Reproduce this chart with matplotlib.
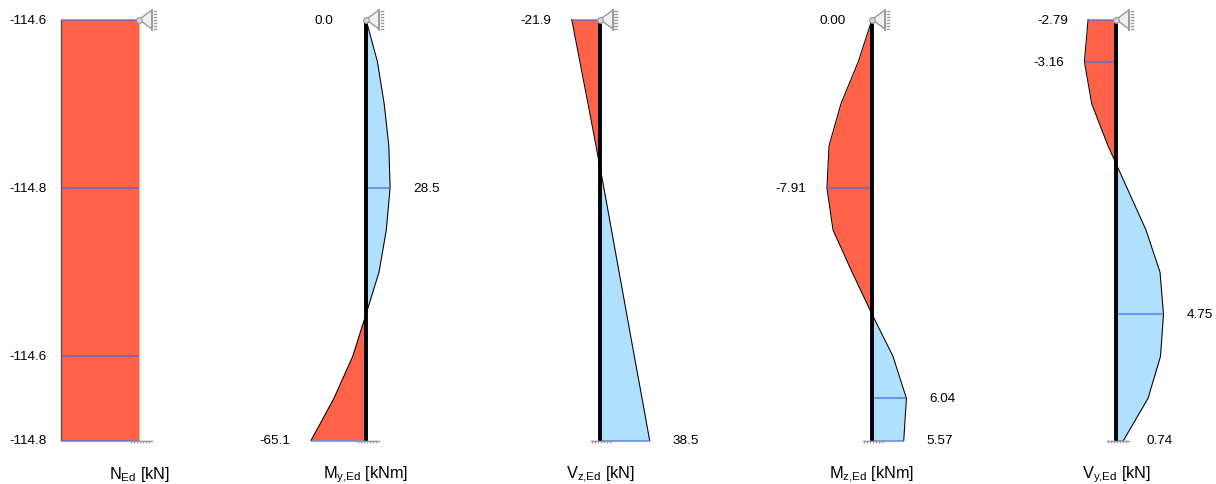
#!/usr/bin/env python3
"""Internal force diagrams along a member: N, My, Vz, Mz, Vy."""
import matplotlib
matplotlib.use("Agg")
import matplotlib.pyplot as plt
from matplotlib.lines import Line2D
from matplotlib.patches import Polygon

plt.rcParams["font.family"] = ["Liberation Sans", "DejaVu Sans"]
plt.rcParams["mathtext.default"] = "regular"

W, H = 1216, 484
TOP, BOTTOM = 19.5, 440.5
RED, BLUE = "#FF6347", "#B0E0FF"
MARK = "#4169E1"
GREY = "#999999"

STATIONS = [0.0, 0.1, 0.2, 0.3, 0.4, 0.5, 0.6, 0.7, 0.8, 0.9, 1.0]

N_ED = [-114.6, -114.62, -114.64, -114.66, -114.8, -114.7, -114.66, -114.63, -114.6, -114.7, -114.8]
MY_ED = [0.0, 13.5, 21.5, 27.0, 28.5, 24.0, 15.4, 0.0, -15.7, -38.0, -65.1]
VZ_ED = [-21.9, -15.6, -9.3, -3.1, 3.0, 8.9, 14.8, 20.7, 26.6, 32.6, 38.5]
MZ_ED = [0.0, -2.4, -5.44, -7.54, -7.91, -6.84, -3.5, 0.0, 3.68, 6.04, 5.57]
VY_ED = [-2.79, -3.16, -2.43, -0.8, 1.1, 3.0, 4.4, 4.75, 4.45, 3.2, 0.74]

TITLES = [r"$N_{Ed}$ [kN]", r"$M_{y{,}Ed}$ [kNm]", r"$V_{z{,}Ed}$ [kN]", r"$M_{z{,}Ed}$ [kNm]", r"$V_{y{,}Ed}$ [kN]"]
SERIES = [N_ED, MY_ED, VZ_ED, MZ_ED, VY_ED]
# stations that carry a value label / marker line
LABEL_AT = [[0.0, 0.4, 0.8, 1.0], [0.0, 0.4, 1.0], [0.0, 1.0], [0.0, 0.4, 0.9, 1.0], [0.0, 0.1, 0.7, 1.0]]
LABELS = [["-114.6", "-114.8", "-114.6", "-114.8"], ["0.0", "28.5", "-65.1"], ["-21.9", "38.5"],
          ["0.00", "-7.91", "6.04", "5.57"], ["-2.79", "-3.16", "4.75", "0.74"]]
# pixel layout: member x position, pixels per unit
BASE_PX = [139, 366, 600, 872, 1116]
SCALE = [0.68, 0.845, 1.29, 5.7, 10.0]
LEFT_OFF = [-14, -21, -20, -21, -20]


def support_top(fig, x, y):
    fig.add_artist(Polygon([(x, y), (x + 13, y + 9.5), (x + 13, y - 9.5)], closed=True, transform=None,
                           facecolor="#F0F0F0", edgecolor=GREY, lw=1.0, zorder=5))
    fig.add_artist(Line2D([x + 13, x + 13], [y - 10, y + 10], zorder=5, transform=None, figure=fig,
                          color=GREY, lw=1.3))
    for dy in range(-9, 11, 3):
        fig.add_artist(Line2D([x + 14.5, x + 17], [y + dy, y + dy], zorder=5, transform=None, figure=fig,
                              color=GREY, lw=1.0))
    fig.add_artist(Line2D([x], [y], marker="o", ms=4.0, mfc="#DDDDDD", mec=GREY, mew=0.9, ls="", zorder=6,
                          transform=None, figure=fig))


def support_bottom(fig, x, y):
    fig.add_artist(Line2D([x - 9, x + 13], [y, y], transform=None, figure=fig, color=GREY, lw=1.0, zorder=5))
    for dx in range(-7, 14, 3):
        fig.add_artist(Line2D([x + dx, x + dx - 0.5], [y - 0.5, y - 2.5], transform=None, figure=fig,
                              color=GREY, lw=0.7, zorder=5))


fig = plt.figure(figsize=(W / 100, H / 100), dpi=100)

for i, vals in enumerate(SERIES):
    base, scale = BASE_PX[i], SCALE[i]
    left, right = base - 100, base + 100
    ax = fig.add_axes([left / W, 1 - BOTTOM / H, (right - left) / W, (BOTTOM - TOP) / H])
    ax.set_xlim(-100 / scale, 100 / scale)
    ax.set_ylim(1, 0)
    ax.axis("off")

    neg = [v <= 0 for v in vals]
    pos = [v >= 0 for v in vals]
    ax.fill_betweenx(STATIONS, vals, 0, where=neg, interpolate=True, color=RED, lw=0, zorder=1)
    ax.fill_betweenx(STATIONS, vals, 0, where=pos, interpolate=True, color=BLUE, lw=0, zorder=1)

    if i == 0:
        # the normal force is drawn as a plain block, no member bar
        ax.axvline(-114.7, color="#555555", lw=1.0, zorder=2)
        ax.fill_betweenx(STATIONS, -114.7, 0, color=RED, lw=0, zorder=1)
    else:
        ax.plot(vals, STATIONS, color="black", lw=0.75, zorder=2, clip_on=False)

    for st, txt in zip(LABEL_AT[i], LABELS[i]):
        v = vals[STATIONS.index(st)]
        if i == 0:
            v = -114.7
        ax.plot([v, 0], [st, st], color=MARK, lw=1.1, alpha=0.8, zorder=3, solid_capstyle="butt", clip_on=False)
        if v < 0:
            off, ha = LEFT_OFF[i], "right"
        elif v > 0:
            off, ha = 23, "left"
        else:
            off, ha = (-33 if i == 1 else -26), "right"
        ax.annotate(txt, xy=(v, st), xytext=(off, -1), textcoords="offset pixels", ha=ha, va="center",
                    fontsize=9.7, color="black", annotation_clip=False)

    if i > 0:
        ax.plot([0, 0], [0, 1], color="black", lw=2.8, zorder=4, solid_capstyle="butt")
    ax.annotate(TITLES[i], xy=(0, 1), xytext=(0, -34), textcoords="offset pixels", ha="center", va="center",
                fontsize=11.8, color="black", annotation_clip=False)

    fig.canvas.draw()
    x0, y0 = ax.transData.transform((0, 0))
    x1, y1 = ax.transData.transform((0, 1))
    support_top(fig, x0, y0)
    support_bottom(fig, x1, y1)

fig.savefig("out.png", dpi=100)
